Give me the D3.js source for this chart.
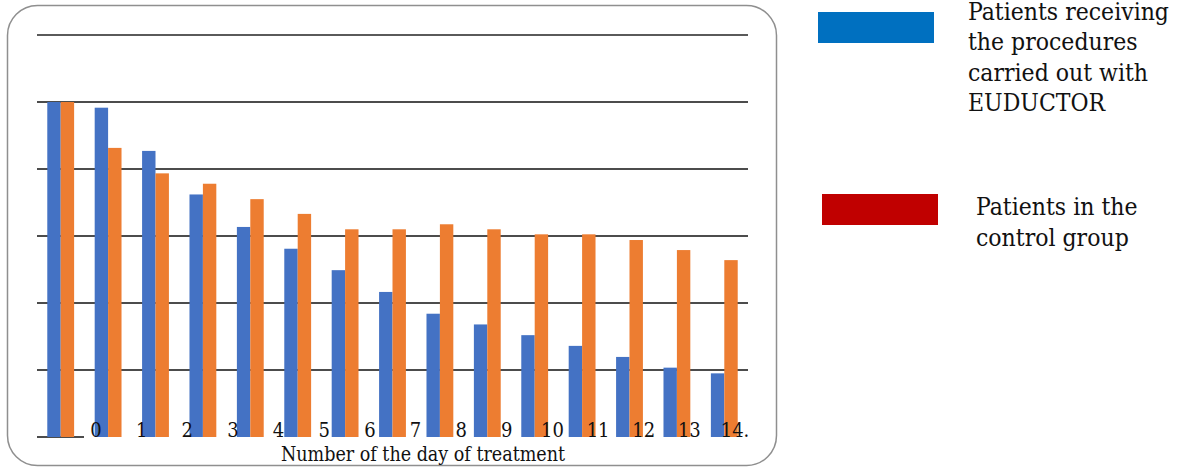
<!DOCTYPE html>
<html>
<head>
<meta charset="utf-8">
<script src="https://cdn.jsdelivr.net/npm/d3@7"></script>
<style>
  html, body { margin: 0; padding: 0; background: #fff; }
  svg { display: block; }
  text { font-family: "DejaVu Serif", "Liberation Serif", serif; font-stretch: condensed; fill: #111; }
</style>
</head>
<body>
<svg id="chart" width="1184" height="468"></svg>
<script>
// Treatment days shown along the horizontal axis
const days = [0, 1, 2, 3, 4, 5, 6, 7, 8, 9, 10, 11, 12, 13, 14];
const dayLabels = ["0", "1", "2", "3", "4", "5", "6", "7", "8", "9", "10", "11", "12", "13", "14."];

// Share of patients (%) for each group per day
const euductorGroup = [100, 98.3, 85.4, 72.4, 62.7, 56.2, 49.8, 43.3, 36.8, 33.6, 30.4, 27.2, 23.9, 20.7, 19.0];
const controlGroup  = [100, 86.3, 78.7, 75.6, 71.0, 66.6, 62.0, 62.0, 63.5, 62.0, 60.5, 60.5, 58.8, 55.8, 52.8];

// Horizontal gridline values
const gridValues = [0, 20, 40, 60, 80, 100, 120];

const seriesNames = ["Patients receiving the procedures carried out with EUDUCTOR", "Patients in the control group"];

const svg = d3.select("#chart");

// Rounded frame of the plot panel
svg.append("rect")
  .attr("x", 7.5).attr("y", 5.5)
  .attr("width", 769).attr("height", 460)
  .attr("rx", 30).attr("ry", 30)
  .attr("fill", "#fff")
  .attr("stroke", "#8f8f8f")
  .attr("stroke-width", 1.5);

const plot = { left: 37, right: 748, top: 35, bottom: 437 };

const y = d3.scaleLinear().domain([0, 120]).range([plot.bottom, plot.top]);

const x = d3.scaleBand()
  .domain(days)
  .range([plot.left, plot.right])
  .paddingInner(0.434)
  .paddingOuter(0.217);

const xs = d3.scaleBand()
  .domain([0, 1])
  .range([0, x.bandwidth()]);

// Category labels sit on their own evenly spaced positions under the bars
const xl = d3.scalePoint().domain(days).range([96, 735]);

// Gridlines
const grid = svg.append("g");
grid.selectAll("line")
  .data(gridValues)
  .join("line")
  .attr("x1", plot.left)
  .attr("x2", d => d === 0 ? 84 : plot.right)
  .attr("y1", d => y(d))
  .attr("y2", d => y(d))
  .attr("stroke", d => d === 120 ? "#5a5a5a" : "#111")
  .attr("stroke-width", d => d === 120 ? 2 : 1.5);

// Bars
const colors = ["#4472C4", "#ED7D31"];
const groups = svg.append("g")
  .selectAll("g")
  .data(days)
  .join("g")
  .attr("transform", d => `translate(${x(d)},0)`);

groups.selectAll("rect")
  .data((d, i) => [euductorGroup[i], controlGroup[i]])
  .join("rect")
  .attr("x", (d, j) => xs(j))
  .attr("width", xs.bandwidth())
  .attr("y", d => y(d))
  .attr("height", d => y(0) - y(d))
  .attr("fill", (d, j) => colors[j]);

// Day labels
svg.append("g")
  .selectAll("text")
  .data(days)
  .join("text")
  .attr("x", d => xl(d))
  .attr("y", 437)
  .attr("text-anchor", "middle")
  .attr("font-size", 20)
  .text((d, i) => dayLabels[i]);

// Axis title
svg.append("text")
  .attr("x", 423)
  .attr("y", 461)
  .attr("text-anchor", "middle")
  .attr("font-size", 19.5)
  .text("Number of the day of treatment");

// Legend
const legendColors = ["#0070C0", "#C00000"];
const legendLines = [
  ["Patients receiving", "the procedures", "carried out with", "EUDUCTOR"],
  ["Patients in the", "control group"]
];
const legendItems = [
  { rx: 818, ry: 12, tx: 968, ty: 19.5 },
  { rx: 822, ry: 194, tx: 976, ty: 215 }
];

legendItems.forEach((p, i) => {
  const g = svg.append("g").attr("class", "legend-item");
  g.append("rect")
    .attr("x", p.rx).attr("y", p.ry)
    .attr("width", 116).attr("height", 31)
    .attr("fill", legendColors[i]);
  const t = g.append("text")
    .attr("x", p.tx).attr("y", p.ty)
    .attr("font-size", 24.5);
  t.selectAll("tspan")
    .data(legendLines[i])
    .join("tspan")
    .attr("x", p.tx)
    .attr("dy", (d, k) => k === 0 ? 0 : 30.5)
    .text(d => d);
  g.append("title").text(seriesNames[i]);
});
</script>
</body>
</html>
